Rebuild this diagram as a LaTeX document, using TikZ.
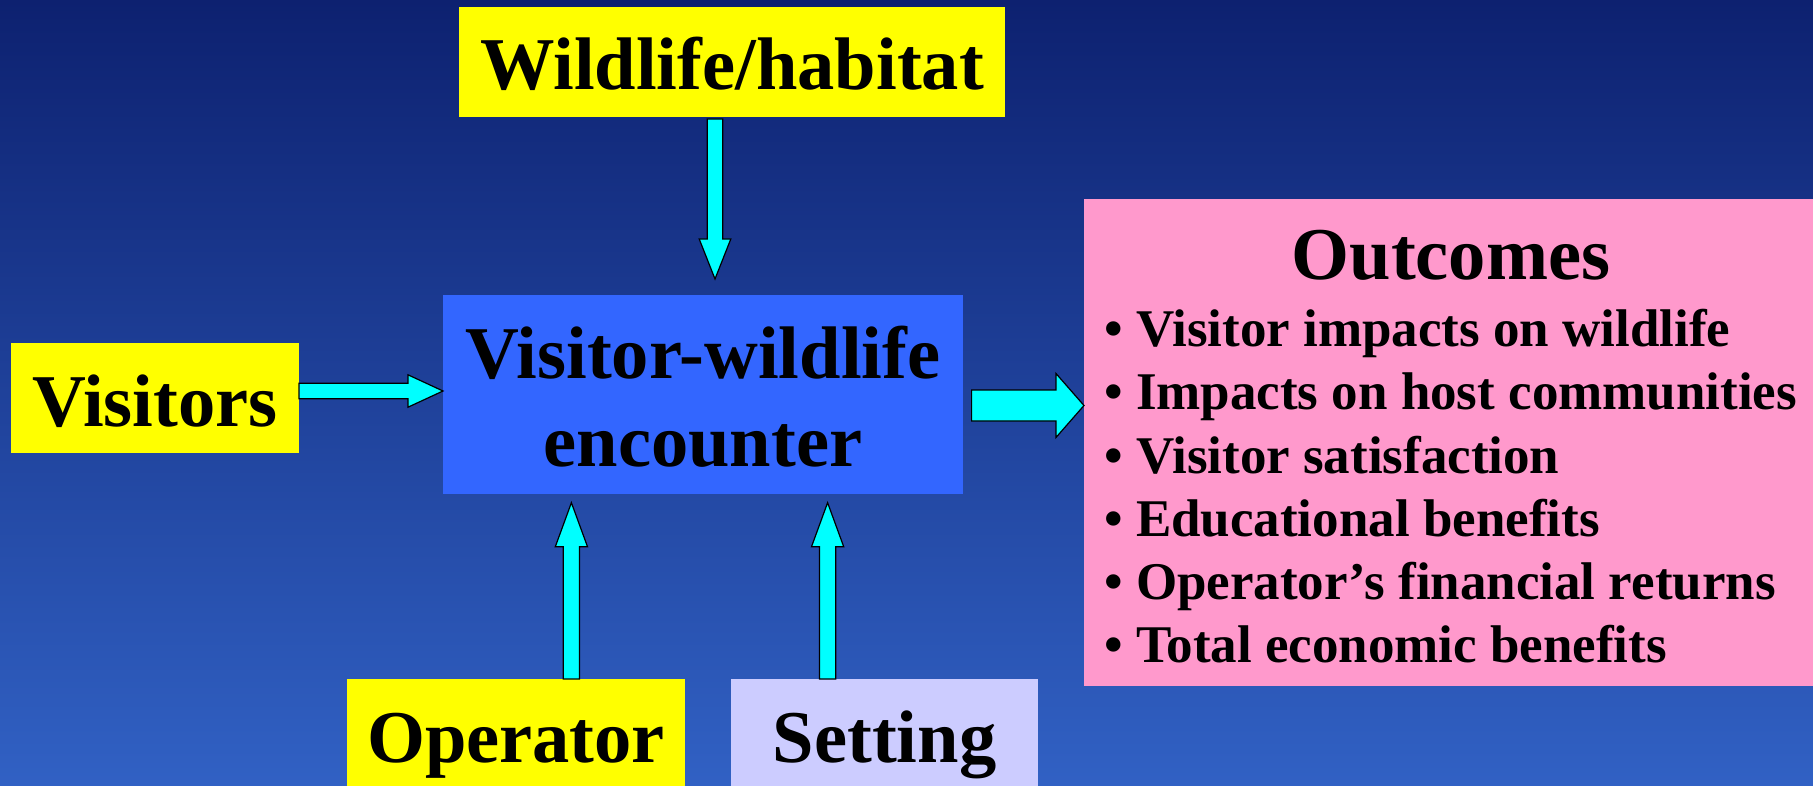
\documentclass[tikz,border=0pt]{standalone}
\usepackage{fontspec}
\setmainfont{Liberation Serif}
\usetikzlibrary{calc}
\definecolor{bgtop}{RGB}{13,33,112}
\definecolor{bgbot}{RGB}{49,97,196}
\definecolor{yel}{RGB}{255,255,0}
\definecolor{encblue}{RGB}{51,102,255}
\definecolor{pinkc}{RGB}{255,153,204}
\definecolor{lav}{RGB}{204,204,255}
\definecolor{arrowcyan}{RGB}{0,255,255}
\tikzset{
  box/.style={draw=none, inner sep=0pt, outer sep=0pt, font=\bfseries\fontsize{74.5}{88}\selectfont, text depth=0pt},
  blockarrow/.style={fill=arrowcyan, draw=black, line width=1.2pt, line join=miter},
  bigtext/.style={font=\bfseries\fontsize{74.5}{88}\selectfont, inner sep=0pt},
  listtext/.style={font=\bfseries\fontsize{53}{63.1}\selectfont, inner sep=0pt, align=left}
}
\begin{document}
\begin{tikzpicture}[x=1pt,y=-1pt]
\useasboundingbox (0,0) rectangle (1813,786);
\shade[top color=bgtop, bottom color=bgbot] (0,0) rectangle (1813,786);

\node[box, fill=yel, minimum width=546pt, minimum height=110pt, text height=54.6pt] (wild) at (732,62) {Wildlife/habitat};
\node[box, fill=yel, minimum width=288pt, minimum height=110pt, text height=56.4pt] (vis) at (155,398) {Visitors};
\node[box, fill=encblue, minimum width=520pt, minimum height=199pt, align=center, text height=143.6pt, text depth=0pt] (enc) at (703,394.5) {Visitor-wildlife\\encounter};
\node[box, fill=yel, minimum width=338pt, minimum height=107pt, text height=59pt] (op) at (516,732.5) {Operator};
\node[box, fill=lav, minimum width=307pt, minimum height=107pt, text height=60.4pt] (set) at (884.5,732.5) {Setting};
\node[box, fill=pinkc, minimum width=729pt, minimum height=487pt] (out) at (1448.5,442.5) {};
\node[bigtext, anchor=base] (outT) at (1451,280) {Outcomes};
\node[listtext, anchor=base west] (outL) at (1104,662.3) {• Visitor impacts on wildlife\\
• Impacts on host communities\\
• Visitor satisfaction\\
• Educational benefits\\
• Operator’s financial returns\\
• Total economic benefits};

% arrow end points
\coordinate (a1s) at ([xshift=-17pt,yshift=-2pt]wild.south);
\coordinate (a1e) at ([xshift=12pt,yshift=16pt]enc.north);
\coordinate (a2s) at ([yshift=7pt]vis.east);
\coordinate (a2e) at ([yshift=3.5pt]enc.west);
\coordinate (a3s) at ([xshift=8.6pt,yshift=-11pt]enc.east);
\coordinate (a3e) at ([yshift=37pt]out.west);
\coordinate (a4s) at ([xshift=55.4pt]op.north);
\coordinate (a4e) at ([xshift=-131.6pt,yshift=-8.7pt]enc.south);
\coordinate (a5s) at ([xshift=-56.9pt]set.north);
\coordinate (a5e) at ([xshift=124.6pt,yshift=-8.7pt]enc.south);

% Wildlife -> encounter (down)
\draw[blockarrow] ($(a1s)+(-7.8,0)$) -- ($(a1e)+(-7.8,-40)$) -- ($(a1e)+(-15.8,-40)$) -- (a1e)
  -- ($(a1e)+(15.8,-40)$) -- ($(a1e)+(7.8,-40)$) -- ($(a1s)+(7.8,0)$) -- cycle;
% Visitors -> encounter (right)
\draw[blockarrow] ($(a2s)+(0,-7.8)$) -- ($(a2e)+(-35,-7.8)$) -- ($(a2e)+(-35,-16.2)$) -- (a2e)
  -- ($(a2e)+(-35,16.2)$) -- ($(a2e)+(-35,7.8)$) -- ($(a2s)+(0,7.8)$) -- cycle;
% encounter -> Outcomes (right, large)
\draw[blockarrow] ($(a3s)+(0,-15.5)$) -- ($(a3e)+(-28,-15.5)$) -- ($(a3e)+(-28,-32)$) -- (a3e)
  -- ($(a3e)+(-28,32)$) -- ($(a3e)+(-28,15.5)$) -- ($(a3s)+(0,15.5)$) -- cycle;
% Operator -> encounter (up)
\draw[blockarrow] ($(a4s)+(-8.15,0)$) -- ($(a4e)+(-8.15,44)$) -- ($(a4e)+(-16.1,44)$) -- (a4e)
  -- ($(a4e)+(16.1,44)$) -- ($(a4e)+(8.15,44)$) -- ($(a4s)+(8.15,0)$) -- cycle;
% Setting -> encounter (up)
\draw[blockarrow] ($(a5s)+(-8.15,0)$) -- ($(a5e)+(-8.15,44)$) -- ($(a5e)+(-16.1,44)$) -- (a5e)
  -- ($(a5e)+(16.1,44)$) -- ($(a5e)+(8.15,44)$) -- ($(a5s)+(8.15,0)$) -- cycle;
\end{tikzpicture}
\end{document}
